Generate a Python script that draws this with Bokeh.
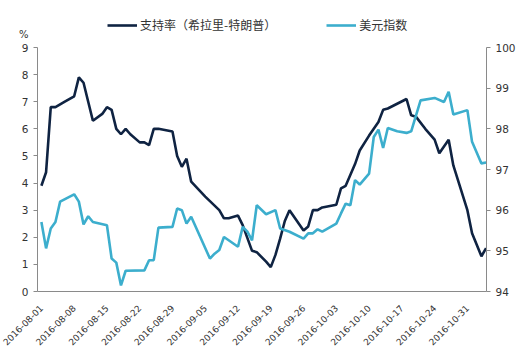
import pandas as pd
from bokeh.plotting import figure
from bokeh.models import (LinearAxis, Range1d, DatetimeTickFormatter, FixedTicker,
                          Legend, LegendItem, ColumnDataSource)
from bokeh.embed import file_html
from bokeh.resources import INLINE
import math

# ---- data ----
approval_dates = ["2016-08-01", "2016-08-02", "2016-08-03", "2016-08-04", "2016-08-06", "2016-08-08",
                  "2016-08-09", "2016-08-10", "2016-08-11", "2016-08-12", "2016-08-14", "2016-08-15",
                  "2016-08-16", "2016-08-17", "2016-08-18", "2016-08-19", "2016-08-20", "2016-08-22",
                  "2016-08-23", "2016-08-24", "2016-08-25", "2016-08-26", "2016-08-29", "2016-08-30",
                  "2016-08-31", "2016-09-01", "2016-09-02", "2016-09-05", "2016-09-08", "2016-09-09",
                  "2016-09-10", "2016-09-12", "2016-09-13", "2016-09-15", "2016-09-16", "2016-09-18",
                  "2016-09-19", "2016-09-20", "2016-09-21", "2016-09-22", "2016-09-23", "2016-09-26",
                  "2016-09-27", "2016-09-28", "2016-09-29", "2016-09-30", "2016-10-03", "2016-10-04",
                  "2016-10-05", "2016-10-07", "2016-10-08", "2016-10-10", "2016-10-11", "2016-10-12",
                  "2016-10-13", "2016-10-14", "2016-10-18", "2016-10-19", "2016-10-20", "2016-10-22",
                  "2016-10-24", "2016-10-25", "2016-10-27", "2016-10-28", "2016-10-31", "2016-11-01",
                  "2016-11-03", "2016-11-04"]
approval = [3.9, 4.4, 6.8, 6.8, 7.0, 7.2,
            7.9, 7.7, 7.0, 6.3, 6.55, 6.8,
            6.7, 6.0, 5.8, 6.0, 5.8, 5.5,
            5.5, 5.4, 6.0, 6.0, 5.9, 5.0,
            4.6, 4.9, 4.05, 3.5, 3.0, 2.7,
            2.7, 2.8, 2.45, 1.5, 1.45, 1.1,
            0.9, 1.35, 1.95, 2.6, 3.0, 2.25,
            2.4, 3.0, 3.0, 3.1, 3.2, 3.8,
            3.9, 4.7, 5.2, 5.75, 6.0, 6.25,
            6.7, 6.75, 7.1, 6.5, 6.45, 6.0,
            5.6, 5.1, 5.6, 4.65, 3.0, 2.15,
            1.3, 1.6]

dxy_dates = ["2016-08-01", "2016-08-02", "2016-08-03", "2016-08-04", "2016-08-05", "2016-08-08",
             "2016-08-09", "2016-08-10", "2016-08-11", "2016-08-12", "2016-08-15", "2016-08-16",
             "2016-08-17", "2016-08-18", "2016-08-19", "2016-08-23", "2016-08-24", "2016-08-25",
             "2016-08-26", "2016-08-29", "2016-08-30", "2016-08-31", "2016-09-01", "2016-09-02",
             "2016-09-06", "2016-09-07", "2016-09-08", "2016-09-09", "2016-09-12", "2016-09-13",
             "2016-09-14", "2016-09-15", "2016-09-16", "2016-09-18", "2016-09-20", "2016-09-21",
             "2016-09-23", "2016-09-26", "2016-09-27", "2016-09-28", "2016-09-29", "2016-09-30",
             "2016-10-03", "2016-10-04", "2016-10-05", "2016-10-06", "2016-10-07", "2016-10-08",
             "2016-10-10", "2016-10-11", "2016-10-12", "2016-10-13", "2016-10-14", "2016-10-16",
             "2016-10-18", "2016-10-19", "2016-10-21", "2016-10-24", "2016-10-26", "2016-10-27",
             "2016-10-28", "2016-10-31", "2016-11-01", "2016-11-03", "2016-11-04"]
dxy = [95.71, 95.06, 95.55, 95.71, 96.21, 96.39,
       96.21, 95.65, 95.85, 95.71, 95.63, 94.81,
       94.71, 94.15, 94.51, 94.52, 94.77, 94.77,
       95.57, 95.59, 96.04, 96.0, 95.67, 95.84,
       94.81, 94.93, 95.02, 95.34, 95.10, 95.59,
       95.47, 95.26, 96.12, 95.9, 96.0, 95.55,
       95.47, 95.30, 95.43, 95.43, 95.53, 95.47,
       95.67, 95.92, 96.16, 96.12, 96.74, 96.63,
       96.90, 97.80, 97.98, 97.53, 98.02, 97.94,
       97.90, 97.94, 98.70, 98.76, 98.66, 98.91,
       98.35, 98.46, 97.68, 97.15, 97.17]

tick_dates = ["2016-08-01", "2016-08-08", "2016-08-15", "2016-08-22", "2016-08-29", "2016-09-05",
              "2016-09-12", "2016-09-19", "2016-09-26", "2016-10-03", "2016-10-10", "2016-10-17",
              "2016-10-24", "2016-10-31"]
left_ticks = [0, 1, 2, 3, 4, 5, 6, 7, 8, 9]
right_ticks = [94, 95, 96, 97, 98, 99, 100]

name_approval = "支持率（希拉里-特朗普）"
name_dxy = "美元指数"
unit_label = "%"

DARK = "#0f2342"
CYAN = "#3caecd"
AXIS = "#8a8a8a"
TXT = "#333333"

a_src = ColumnDataSource(dict(x=pd.to_datetime(approval_dates), y=approval))
d_src = ColumnDataSource(dict(x=pd.to_datetime(dxy_dates), y=dxy))

x0 = pd.Timestamp("2016-08-01") - pd.Timedelta(hours=20)
x1 = pd.Timestamp("2016-11-04") + pd.Timedelta(hours=2)

# frame is extended above the top tick so the legend fits inside it
TOP_EXTRA = 281 / 244
p = figure(width=518, height=353, output_backend="svg", toolbar_location=None,
           x_axis_type="datetime", x_range=Range1d(x0, x1),
           y_range=Range1d(0, 9 * TOP_EXTRA),
           min_border_left=37, min_border_right=30, min_border_top=10, min_border_bottom=62)
p.outline_line_color = None
p.grid.visible = False
p.background_fill_color = "white"
p.border_fill_color = "white"

p.extra_y_ranges = {"dxy": Range1d(94, 94 + 6 * TOP_EXTRA)}
raxis = LinearAxis(y_range_name="dxy")
p.add_layout(raxis, "right")

FONT = "DejaVu Sans"
for ax in (p.yaxis[0], raxis):
    ax.axis_line_color = AXIS
    ax.major_tick_line_color = AXIS
    ax.minor_tick_line_color = None
    ax.major_tick_in = 0
    ax.major_tick_out = 4
    ax.major_label_text_font = FONT
    ax.major_label_text_font_size = "10.5px"
    ax.major_label_text_color = TXT
    ax.major_label_standoff = 5
p.yaxis[0].ticker = FixedTicker(ticks=left_ticks)
p.yaxis[0].bounds = (0, 9)
raxis.ticker = FixedTicker(ticks=right_ticks)
raxis.bounds = (94, 100)

# unit "%" shown above the left scale (an extra, line-less left axis)
unit_axis = LinearAxis(ticker=FixedTicker(ticks=[9.48]),
                       major_label_overrides={9.48: unit_label},
                       axis_line_color=None, major_tick_line_color=None,
                       minor_tick_line_color=None, major_tick_out=0, major_tick_in=0,
                       major_label_standoff=-10, major_label_text_font=FONT,
                       major_label_text_font_size="10px", major_label_text_color=TXT)
p.add_layout(unit_axis, "left")

xa = p.xaxis[0]
xa.ticker = FixedTicker(ticks=[pd.Timestamp(d).value / 1e6 for d in tick_dates])
xa.formatter = DatetimeTickFormatter(days="%Y-%m-%d", months="%Y-%m-%d")
xa.major_label_orientation = math.pi / 4
xa.axis_line_color = AXIS
xa.major_tick_line_color = None
xa.minor_tick_line_color = None
xa.major_label_text_font = FONT
xa.major_label_text_font_size = "9px"
xa.major_label_text_color = TXT
xa.major_label_standoff = 9

r1 = p.line("x", "y", source=a_src, line_color=DARK, line_width=2.6)
r2 = p.line("x", "y", source=d_src, line_color=CYAN, line_width=2.6, y_range_name="dxy")

legend = Legend(items=[LegendItem(label=name_approval, renderers=[r1]),
                       LegendItem(label=name_dxy, renderers=[r2])],
                orientation="horizontal", location=(70, 258),
                label_text_font="Noto Sans CJK SC", label_text_font_size="12px",
                label_text_color=TXT, glyph_width=30, glyph_height=10,
                label_standoff=3, spacing=50, padding=0, margin=0,
                border_line_color=None, background_fill_alpha=0)
p.add_layout(legend, "center")

open("out.html", "w").write(file_html(p, INLINE))
